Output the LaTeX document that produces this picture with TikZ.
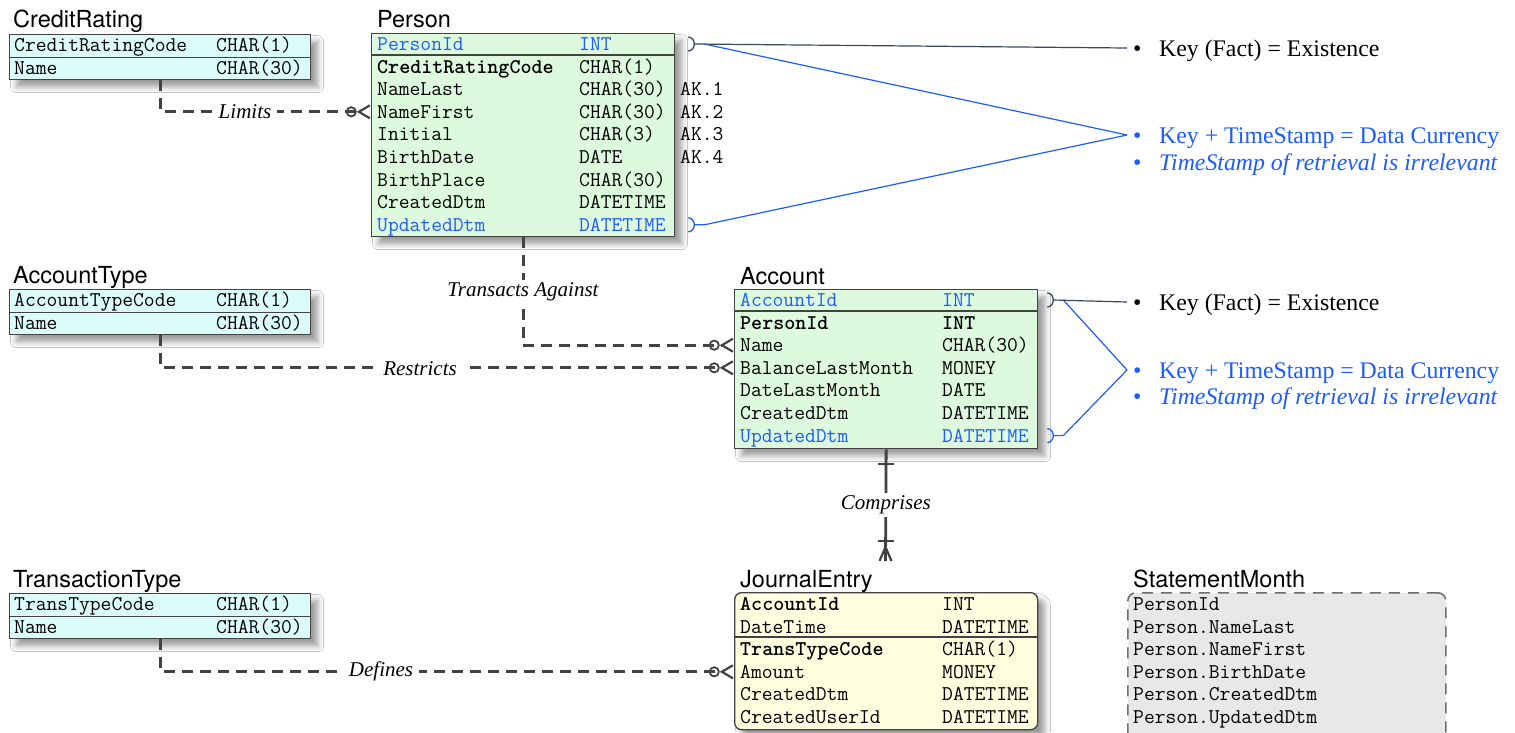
\documentclass[tikz,border=0pt]{standalone}
\usepackage{fontspec}
\setmainfont{Liberation Serif}
\setsansfont{TeX Gyre Heros}
\usetikzlibrary{arrows.meta,calc,shadows.blur}

\definecolor{keyblue}{RGB}{28,92,255}
\definecolor{edge}{RGB}{66,66,66}
\definecolor{bracketdark}{RGB}{60,70,95}
\definecolor{lookupfill}{RGB}{220,252,252}
\definecolor{entityfill}{RGB}{222,250,222}
\definecolor{eventfill}{RGB}{255,254,222}
\definecolor{viewfill}{RGB}{232,232,232}
\definecolor{viewedge}{RGB}{110,110,110}

% name column is a fixed box, type column follows it
\newcommand{\fld}[2]{\makebox[202pt][l]{#1}#2}
\newcommand{\pkey}{\color{keyblue}}
\newcommand{\fkey}{\bfseries}
\newcommand{\bul}{\makebox[26pt][l]{\textbullet}}

\tikzset{
  entity/.style={draw=edge, line width=1.3pt, anchor=north west, inner sep=0pt, minimum width=301pt,
    blur shadow={shadow xshift=7pt, shadow yshift=-7pt, shadow blur radius=6pt, shadow opacity=40}},
  entname/.style={anchor=base west, inner sep=0pt, font=\sffamily\fontsize{23.5}{26}\selectfont},
  field/.style={anchor=west, inner sep=0pt, text height=16pt, text depth=3.2pt, font=\ttfamily\fontsize{21}{24}\selectfont},
  rowrule/.style={draw=edge, line width=1.3pt},
  relline/.style={draw=edge, line width=2.8pt, dash pattern=on 11pt off 7pt},
  zeromany/.style={-{Circle[open,length=11pt,width=11pt,line width=1.8pt,sep=0pt] Straight Barb[reversed,length=11pt,width=13pt,line width=2.2pt]}},
  verb/.style={fill=white, text=black, inner xsep=6pt, inner ysep=3pt, font=\itshape\fontsize{21}{24}\selectfont},
  keynote/.style={anchor=west, inner xsep=6pt, inner ysep=0pt, text height=20pt, text depth=4pt, font=\fontsize{23.8}{26}\selectfont},
}

\begin{document}
\begin{tikzpicture}[x=1pt, y=-1pt]
\fill[white] (0,0) rectangle (1515,732);
\useasboundingbox (0,0) rectangle (1515,732);

% lookup tables on the left
\node[entity, fill=lookupfill, minimum height=45pt] (creditrating) at (9,34) {};
\node[entname] at (13,27) {CreditRating};
\draw[rowrule] (creditrating.west) -- (creditrating.east);
\foreach \fname/\ftype [count=\k from 0] in {CreditRatingCode/CHAR(1), Name/CHAR(30)}
  \node[field] (creditrating-\k) at (14,{45+22.6*\k}) {\fld{\fname}{\ftype}};

\node[entity, fill=lookupfill, minimum height=45pt] (accounttype) at (9,289) {};
\node[entname] at (13,283) {AccountType};
\draw[rowrule] (accounttype.west) -- (accounttype.east);
\foreach \fname/\ftype [count=\k from 0] in {AccountTypeCode/CHAR(1), Name/CHAR(30)}
  \node[field] (accounttype-\k) at (14,{300.5+22.6*\k}) {\fld{\fname}{\ftype}};

\node[entity, fill=lookupfill, minimum height=45pt] (transtype) at (9,593) {};
\node[entname] at (13,587) {TransactionType};
\draw[rowrule] (transtype.west) -- (transtype.east);
\foreach \fname/\ftype [count=\k from 0] in {TransTypeCode/CHAR(1), Name/CHAR(30)}
  \node[field] (transtype-\k) at (14,{604+22.6*\k}) {\fld{\fname}{\ftype}};

% Person
\node[entity, fill=entityfill, minimum width=303pt, minimum height=203pt] (person) at (371,33) {};
\node[entname] at (377,27) {Person};
\draw[rowrule] ($(person.north west)+(0,22)$) -- ($(person.north east)+(0,22)$);
\foreach \fname/\ftype [count=\k from 0] in {\pkey PersonId/\pkey INT, \fkey CreditRatingCode/CHAR(1),
    NameLast/CHAR(30), NameFirst/CHAR(30), Initial/CHAR(3), BirthDate/DATE, BirthPlace/CHAR(30),
    CreatedDtm/DATETIME, \pkey UpdatedDtm/\pkey DATETIME}
  \node[field] (person-\k) at (377,{44+22.6*\k}) {\fld{\fname}{\ftype}};
\foreach \k in {1,...,4}
  \node[field] at (680,{66.6+22.6*\k}) {AK.\k};

% Account
\node[entity, fill=entityfill, minimum width=303pt, minimum height=159pt] (account) at (734,289) {};
\node[entname] at (740,284) {Account};
\draw[rowrule] ($(account.north west)+(0,22)$) -- ($(account.north east)+(0,22)$);
\foreach \fname/\ftype [count=\k from 0] in {\pkey AccountId/\pkey INT, \fkey PersonId/\fkey INT,
    Name/CHAR(30), BalanceLastMonth/MONEY, DateLastMonth/DATE, CreatedDtm/DATETIME,
    \pkey UpdatedDtm/\pkey DATETIME}
  \node[field] (account-\k) at (740,{300+22.6*\k}) {\fld{\fname}{\ftype}};

% JournalEntry
\node[entity, fill=eventfill, rounded corners=7pt, minimum width=303pt, minimum height=137pt] (journal) at (734,592) {};
\node[entname] at (740,587) {JournalEntry};
\draw[rowrule] ($(journal.north west)+(0,45)$) -- ($(journal.north east)+(0,45)$);
\foreach \fname/\ftype [count=\k from 0] in {\fkey AccountId/INT, DateTime/DATETIME,
    \fkey TransTypeCode/CHAR(1), Amount/MONEY, CreatedDtm/DATETIME, CreatedUserId/DATETIME}
  \node[field] (journal-\k) at (740,{604+22.6*\k}) {\fld{\fname}{\ftype}};

% StatementMonth view
\node[draw=viewedge, fill=viewfill, line width=1.6pt, dash pattern=on 11pt off 8pt, rounded corners=8pt,
  anchor=north west, minimum width=318pt, minimum height=160pt] (statement) at (1127,592) {};
\node[entname] at (1133,587) {StatementMonth};
\foreach \fname [count=\k from 0] in {PersonId, Person.NameLast, Person.NameFirst, Person.BirthDate,
    Person.CreatedDtm, Person.UpdatedDtm}
  \node[field] (statement-\k) at (1133,{604+22.6*\k}) {\fname};

% relationships
\draw[relline, zeromany] (creditrating.south) |- (person.west |- person-3);
\node[verb] at (245,112) {Limits};
\draw[relline, zeromany] (person.south) |- (account.west |- account-2);
\node[verb] at (523,292) {Transacts Against};
\draw[relline, zeromany] (accounttype.south) |- (account.west |- account-3);
\node[verb] at (420,369) {Restricts};
\draw[relline, zeromany] (transtype.south) |- (journal.west |- journal-3);
\node[verb] at (381,671) {Defines};

\coordinate (journal-foot) at (885.5,561);
\draw[edge, line width=2.8pt] (account.south) -- node[verb] {Comprises} (journal-foot);
\draw[edge, line width=2.2pt] ($(account.south)+(-8,15)$) -- +(16,0);
\draw[edge, line width=2.2pt] ($(journal-foot)+(-8,-20)$) -- +(16,0);
\draw[edge, line width=2.2pt] ($(journal-foot)+(-6,0)$) -- ($(journal-foot)+(0,-14)$) -- ($(journal-foot)+(6,0)$);

% key notes
\node[keynote] (person-existence) at (1127,48) {\bul Key (Fact) = Existence};
\node[keynote, keyblue] (person-currency) at (1127,135) {\bul Key + TimeStamp = Data Currency};
\node[keynote, keyblue] (person-retrieval) at (1127,162) {\bul\textit{TimeStamp of retrieval is irrelevant}};
\node[keynote] (account-existence) at (1127,302) {\bul Key (Fact) = Existence};
\node[keynote, keyblue] (account-currency) at (1127,370) {\bul Key + TimeStamp = Data Currency};
\node[keynote, keyblue] (account-retrieval) at (1127,396) {\bul\textit{TimeStamp of retrieval is irrelevant}};

\coordinate (person-pk) at ($(person.east |- person-0)+(19,0)$);
\coordinate (person-ts) at ($(person.east |- person-8)+(19,0)$);
\coordinate (account-pk) at ($(account.east |- account-0)+(15,0)$);
\coordinate (account-ts) at ($(account.east |- account-6)+(15,0)$);

\draw[keyblue, line width=1.2pt] ($(person-pk)+(10,0)$) -- (person-currency.west);
\draw[keyblue, line width=1.3pt] ($(person-ts)+(-6,-7)$) arc[start angle=90, end angle=-90, x radius=6pt, y radius=7pt];
\draw[keyblue, line width=1.2pt] (person-ts) -- ++(10,0) -- (person-currency.west);
\draw[bracketdark, line width=1.3pt] ($(person-pk)+(-6,-7)$) arc[start angle=90, end angle=-90, x radius=6pt, y radius=7pt];
\draw[bracketdark, line width=1.2pt] (person-pk) -- (person-existence.west);

\draw[keyblue, line width=1.2pt] ($(account-pk)+(10,0)$) -- (account-currency.west);
\draw[keyblue, line width=1.3pt] ($(account-ts)+(-6,-7)$) arc[start angle=90, end angle=-90, x radius=6pt, y radius=7pt];
\draw[keyblue, line width=1.2pt] (account-ts) -- ++(10,0) -- (account-currency.west);
\draw[bracketdark, line width=1.3pt] ($(account-pk)+(-6,-7)$) arc[start angle=90, end angle=-90, x radius=6pt, y radius=7pt];
\draw[bracketdark, line width=1.2pt] (account-pk) -- (account-existence.west);
\end{tikzpicture}
\end{document}
